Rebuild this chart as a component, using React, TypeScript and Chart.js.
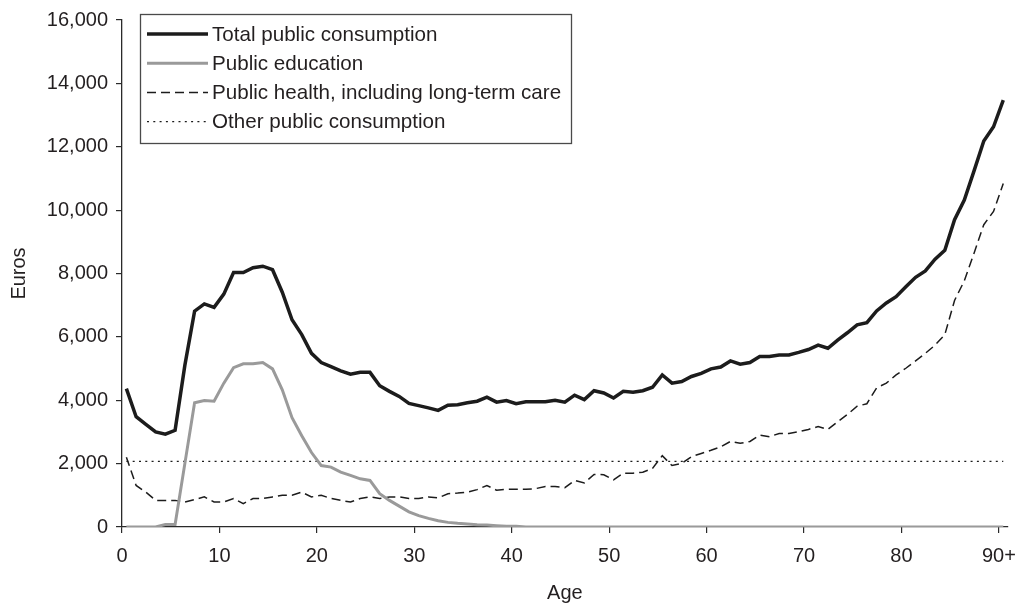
import React, { useEffect, useRef } from "react";
import { Chart, registerables } from "chart.js";

Chart.register(...registerables);

// Single-year ages 0 .. 90+ (categories)
const ages: number[] = Array.from({ length: 91 }, (_, i) => i);

const xTickValues = [0, 10, 20, 30, 40, 50, 60, 70, 80, 90];
const xTickLabels = ["0", "10", "20", "30", "40", "50", "60", "70", "80", "90+"];

const seriesLabels = [
  "Total public consumption",
  "Public education",
  "Public health, including long-term care",
  "Other public consumption",
];

const totalValues = [
  4365, 3480, 3240, 3000, 2930, 3050, 5100, 6810, 7040, 6930,
  7350, 8030, 8030, 8180, 8230, 8120, 7410, 6540, 6070, 5480,
  5190, 5060, 4930, 4820, 4880, 4880, 4460, 4280, 4120, 3900,
  3830, 3760, 3680, 3840, 3860, 3920, 3970, 4100, 3940, 3990,
  3890, 3950, 3950, 3950, 4000, 3940, 4160, 4020, 4300, 4230,
  4070, 4280, 4250, 4300, 4410, 4800, 4540, 4590, 4750, 4850,
  4990, 5050, 5240, 5140, 5190, 5380, 5380, 5430, 5430, 5510,
  5600, 5740, 5640, 5900, 6130, 6380, 6450, 6820, 7070, 7270,
  7580, 7880, 8080, 8450, 8730, 9700, 10320, 11240, 12180, 12630,
  13470,
];

const educationValues = [
  0, 0, 0, 0, 80, 80, 2000, 3920, 3990, 3970,
  4540, 5030, 5150, 5150, 5190, 4990, 4330, 3450, 2880, 2350,
  1940, 1890, 1730, 1630, 1520, 1470, 1050, 840, 660, 480,
  360, 271, 198, 146, 115, 94, 73, 60, 40, 20,
  20, 0, 0, 0, 0, 0, 0, 0, 0, 0,
  0, 0, 0, 0, 0, 0, 0, 0, 0, 0,
  0, 0, 0, 0, 0, 0, 0, 0, 0, 0,
  0, 0, 0, 0, 0, 0, 0, 0, 0, 0,
  0, 0, 0, 0, 0, 0, 0, 0, 0, 0,
  0,
];

const healthValues = [
  2200, 1310, 1100, 840, 840, 840, 790, 865, 950, 790,
  790, 900, 740, 900, 900, 950, 1000, 1000, 1100, 950,
  1000, 900, 840, 790, 900, 950, 900, 950, 950, 900,
  900, 950, 920, 1050, 1070, 1100, 1180, 1310, 1160, 1190,
  1190, 1190, 1210, 1280, 1280, 1240, 1470, 1390, 1660, 1650,
  1490, 1700, 1700, 1730, 1850, 2250, 1940, 2010, 2220, 2320,
  2420, 2530, 2700, 2640, 2700, 2900, 2850, 2950, 2950, 3010,
  3080, 3170, 3080, 3320, 3550, 3810, 3890, 4390, 4540, 4800,
  5010, 5240, 5480, 5740, 6070, 7150, 7770, 8640, 9540, 9960,
  10840,
];

const otherValues = [
  2070, 2070, 2070, 2070, 2070, 2070, 2070, 2070, 2070, 2070,
  2070, 2070, 2070, 2070, 2070, 2070, 2070, 2070, 2070, 2070,
  2070, 2070, 2070, 2070, 2070, 2070, 2070, 2070, 2070, 2070,
  2070, 2070, 2070, 2070, 2070, 2070, 2070, 2070, 2070, 2070,
  2070, 2070, 2070, 2070, 2070, 2070, 2070, 2070, 2070, 2070,
  2070, 2070, 2070, 2070, 2070, 2070, 2070, 2070, 2070, 2070,
  2070, 2070, 2070, 2070, 2070, 2070, 2070, 2070, 2070, 2070,
  2070, 2070, 2070, 2070, 2070, 2070, 2070, 2070, 2070, 2070,
  2070, 2070, 2070, 2070, 2070, 2070, 2070, 2070, 2070, 2070,
  2070,
];

const FONT_FAMILY = "'Liberation Sans', Arial, Helvetica, sans-serif";
const TEXT_COLOR = "#231f20";
const MID_YEAR = 0.45;

export default function App() {
  const canvasRef = useRef<HTMLCanvasElement | null>(null);

  useEffect(() => {
    const canvas = canvasRef.current;
    if (!canvas) return;

    const toPoints = (vals: number[]) =>
      vals.map((v, i) => ({ x: ages[i] + MID_YEAR, y: v }));

    const boxLegend = {
      id: "boxLegend",
      afterDatasetsDraw(chart: any) {
        const ctx = chart.ctx as CanvasRenderingContext2D;
        ctx.save();
        ctx.fillStyle = "#ffffff";
        ctx.fillRect(140, 14, 432, 129);
        ctx.strokeStyle = "#4a4a4a";
        ctx.lineWidth = 1.3;
        ctx.setLineDash([]);
        ctx.strokeRect(140.5, 14.5, 431, 129);
        chart.data.datasets.forEach((ds: any, i: number) => {
          const y = 34 + i * 29.2;
          ctx.beginPath();
          ctx.setLineDash(ds.borderDash || []);
          ctx.strokeStyle = ds.borderColor;
          ctx.lineWidth = ds.borderWidth;
          ctx.moveTo(147, y);
          ctx.lineTo(208, y);
          ctx.stroke();
          ctx.setLineDash([]);
          ctx.fillStyle = TEXT_COLOR;
          ctx.font = `20.6px ${FONT_FAMILY}`;
          ctx.textAlign = "left";
          ctx.textBaseline = "middle";
          ctx.fillText(ds.label, 212, y + 1);
        });
        ctx.restore();
      },
    };

    const font = { family: FONT_FAMILY, size: 20 };

    const chart = new Chart(canvas, {
      type: "line",
      data: {
        datasets: [
          {
            label: seriesLabels[0],
            data: toPoints(totalValues),
            borderColor: "#1c1c1c",
            borderWidth: 3.5,
            pointRadius: 0,
            tension: 0,
            order: 0,
          },
          {
            label: seriesLabels[1],
            data: toPoints(educationValues),
            borderColor: "#9a9a9a",
            borderWidth: 3,
            pointRadius: 0,
            tension: 0,
            order: 1,
          },
          {
            label: seriesLabels[2],
            data: toPoints(healthValues),
            borderColor: "#1c1c1c",
            borderWidth: 1.5,
            borderDash: [9, 5],
            pointRadius: 0,
            tension: 0,
            order: 2,
          },
          {
            label: seriesLabels[3],
            data: toPoints(otherValues),
            borderColor: "#1c1c1c",
            borderWidth: 1.3,
            borderDash: [2, 4.3],
            pointRadius: 0,
            tension: 0,
            order: 3,
          },
        ],
      },
      options: {
        responsive: false,
        animation: false,
        layout: { padding: { top: 15, right: 15, bottom: 0, left: 0 } },
        plugins: {
          legend: { display: false },
          tooltip: { enabled: false },
        },
        scales: {
          x: {
            type: "linear",
            min: 0,
            max: 90.9,
            afterBuildTicks: (axis: any) => {
              axis.ticks = xTickValues.map((v) => ({ value: v }));
            },
            afterFit: (scale: any) => {
              scale.height = 80;
            },
            ticks: {
              autoSkip: false,
              maxRotation: 0,
              padding: 11,
              color: TEXT_COLOR,
              font,
              callback: (value: any) => {
                const idx = xTickValues.indexOf(Number(value));
                return idx >= 0 ? xTickLabels[idx] : "";
              },
            },
            grid: {
              drawOnChartArea: false,
              drawTicks: true,
              tickLength: 6,
              color: "#2a2a2a",
              lineWidth: 1.2,
            },
            border: { display: true, color: "#2a2a2a", width: 1.3 },
            title: {
              display: true,
              text: "Age",
              color: TEXT_COLOR,
              font,
              padding: { top: 0, bottom: 2 },
            },
          },
          y: {
            type: "linear",
            min: 0,
            max: 16000,
            afterFit: (scale: any) => {
              scale.width = 122;
            },
            ticks: {
              stepSize: 2000,
              padding: 8,
              color: TEXT_COLOR,
              font,
              callback: (value: any) => Number(value).toLocaleString("en-US"),
            },
            grid: {
              drawOnChartArea: false,
              drawTicks: true,
              tickLength: 6,
              color: "#2a2a2a",
              lineWidth: 1.2,
            },
            border: { display: true, color: "#2a2a2a", width: 1.3 },
            title: {
              display: true,
              text: "Euros",
              color: TEXT_COLOR,
              font,
              padding: { top: 7, bottom: 0 },
            },
          },
        },
      },
      plugins: [boxLegend],
    } as any);

    return () => {
      chart.destroy();
    };
  }, []);

  return (
    <div style={{ position: "fixed", left: 0, top: 0, width: 1027, height: 607, background: "#fff" }}>
      <canvas ref={canvasRef} width={1027} height={607} style={{ display: "block", width: 1027, height: 607 }} />
    </div>
  );
}
